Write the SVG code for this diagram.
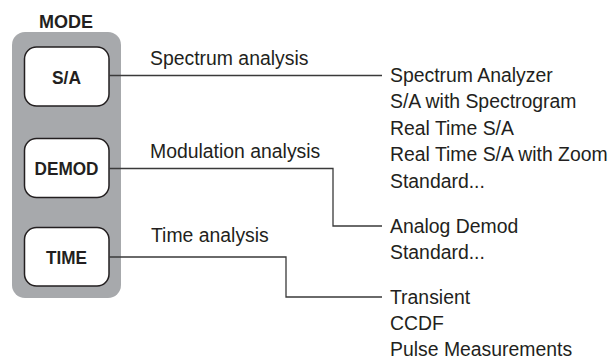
<svg xmlns="http://www.w3.org/2000/svg" width="615" height="360" viewBox="0 0 615 360">
<style>
.panel{fill:#a7a9ac;stroke:none}
.btn{fill:#fff;stroke:#231f20;stroke-width:1.5}
.bl{font-family:"Liberation Sans",Arial,sans-serif;font-weight:bold;font-size:18px;fill:#231f20;text-anchor:middle}
.t{font-family:"Liberation Sans",Arial,sans-serif;font-size:19.4px;fill:#231f20}
.c{fill:none;stroke:#3a3a3a;stroke-width:1.3}
</style>
<rect width="615" height="360" fill="#fff"/>
<g id="mode-panel">
<text x="66" y="28" class="bl">MODE</text>
<rect class="panel" x="12" y="32" width="109" height="266" rx="13"/>
</g>
<g id="sa">
<rect class="btn" x="24.5" y="47" width="84.5" height="59" rx="12"/>
<text x="66.5" y="83.5" class="bl" textLength="29" lengthAdjust="spacingAndGlyphs">S/A</text>
</g>
<g id="demod">
<rect class="btn" x="24.5" y="138.5" width="84.5" height="59" rx="12"/>
<text x="66.5" y="175" class="bl" textLength="64" lengthAdjust="spacingAndGlyphs">DEMOD</text>
</g>
<g id="time">
<rect class="btn" x="24.5" y="227.5" width="84.5" height="58.5" rx="12"/>
<text x="66.5" y="264" class="bl" textLength="41" lengthAdjust="spacingAndGlyphs">TIME</text>
</g>
<g id="connectors">
<path class="c" d="M109 75.5H382"/>
<path class="c" d="M109 168.5H333V226H382"/>
<path class="c" d="M109 257H286V297H382"/>
</g>
<g id="labels">
<text x="150" y="65" class="t">Spectrum analysis</text>
<text x="150" y="158" class="t">Modulation analysis</text>
<text x="151" y="242" class="t">Time analysis</text>
</g>
<g id="sa-list">
<text x="390" y="81.5" class="t">Spectrum Analyzer</text>
<text x="390" y="108" class="t">S/A with Spectrogram</text>
<text x="390" y="134.5" class="t">Real Time S/A</text>
<text x="390" y="161" class="t">Real Time S/A with Zoom</text>
<text x="390" y="187.5" class="t">Standard...</text>
</g>
<g id="demod-list">
<text x="390" y="232.5" class="t">Analog Demod</text>
<text x="390" y="259" class="t">Standard...</text>
</g>
<g id="time-list">
<text x="390" y="303.5" class="t">Transient</text>
<text x="390" y="330" class="t">CCDF</text>
<text x="390" y="356" class="t">Pulse Measurements</text>
</g>
</svg>
